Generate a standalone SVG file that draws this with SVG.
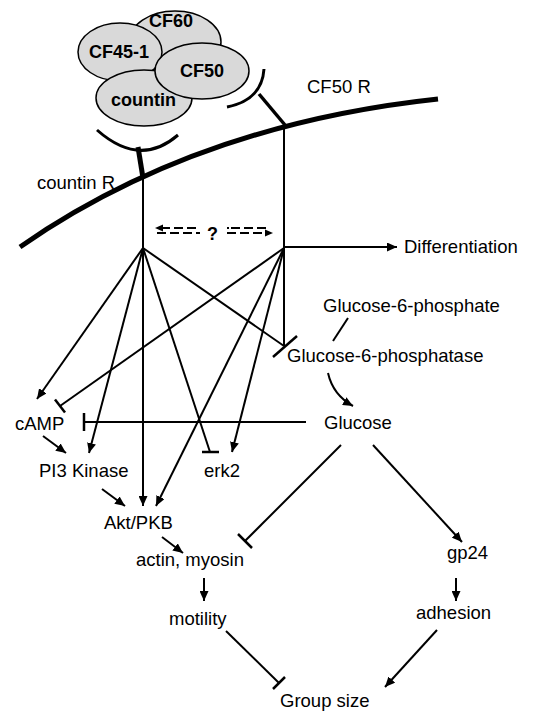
<svg xmlns="http://www.w3.org/2000/svg" width="538" height="718" viewBox="0 0 538 718">
<defs>
<marker id="ah" markerUnits="userSpaceOnUse" markerWidth="11" markerHeight="9" refX="10" refY="4.5" orient="auto">
<path d="M0,0 L10,4.5 L0,9 z" fill="#000"/>
</marker>
<style>
.lbl{font-family:"Liberation Sans",Arial,sans-serif;font-size:18.5px;fill:#000}
.blb{font-family:"Liberation Sans",Arial,sans-serif;font-size:18px;font-weight:bold;fill:#000}
.ell{fill:#d9d9d9;stroke:#000;stroke-width:1.5}
.ln{stroke:#000;stroke-width:2;fill:none}
.ar{stroke:#000;stroke-width:2;fill:none;marker-end:url(#ah)}
.bar{stroke:#000;stroke-width:2.5;fill:none}
.dash{stroke:#000;stroke-width:2;fill:none;stroke-dasharray:9,4}
</style>
</defs>
<rect width="538" height="718" fill="#fff"/>

<g id="ligands">
<g id="CF60"><ellipse class="ell" cx="175" cy="42" rx="46" ry="31"/><text class="blb" x="149" y="27">CF60</text></g>
<g id="CF45-1"><ellipse class="ell" cx="120" cy="52" rx="42" ry="29"/><text class="blb" x="89" y="58">CF45-1</text></g>
<g id="countin"><ellipse class="ell" cx="144" cy="98" rx="48" ry="28"/><text class="blb" x="111" y="106">countin</text></g>
<g id="CF50"><ellipse class="ell" cx="202" cy="71" rx="47" ry="28"/><text class="blb" x="180" y="77">CF50</text></g>
</g>

<g id="membrane">
<path d="M20,247 Q195,125 438,99" stroke="#000" stroke-width="5" fill="none"/>
</g>

<g id="countinR">
<path d="M97,130 Q140,168 178,135" stroke="#000" stroke-width="3" fill="none"/>
<line x1="138" y1="147" x2="143" y2="178" stroke="#000" stroke-width="5"/>
<text class="lbl" x="37" y="189">countin R</text>
</g>

<g id="CF50R">
<path d="M264,69 Q262,100 227,107" stroke="#000" stroke-width="3" fill="none"/>
<line x1="259" y1="94" x2="285" y2="125" stroke="#000" stroke-width="3.5"/>
<text class="lbl" x="307" y="93">CF50 R</text>
</g>

<g id="question"><text class="blb" x="207" y="240">?</text></g>
<g id="Differentiation"><text class="lbl" x="404" y="253">Differentiation</text></g>
<g id="G6P"><text class="lbl" x="323" y="312">Glucose-6-phosphate</text></g>
<g id="G6Pase"><text class="lbl" x="287" y="362">Glucose-6-phosphatase</text></g>
<g id="cAMP"><text class="lbl" x="15" y="430">cAMP</text></g>
<g id="Glucose"><text class="lbl" x="324" y="429">Glucose</text></g>
<g id="PI3K"><text class="lbl" x="39" y="477">PI3 Kinase</text></g>
<g id="erk2"><text class="lbl" x="204" y="477">erk2</text></g>
<g id="AktPKB"><text class="lbl" x="104" y="529">Akt/PKB</text></g>
<g id="actin"><text class="lbl" x="136" y="566">actin, myosin</text></g>
<g id="gp24"><text class="lbl" x="447" y="559">gp24</text></g>
<g id="motility"><text class="lbl" x="169" y="625">motility</text></g>
<g id="adhesion"><text class="lbl" x="416" y="619">adhesion</text></g>
<g id="GroupSize"><text class="lbl" x="280" y="707">Group size</text></g>

<g id="connectors">
<!-- receptor stems -->
<line class="ln" x1="143" y1="178" x2="143" y2="248"/>
<line class="ln" x1="284" y1="124" x2="284" y2="248"/>
<!-- dashed crosstalk -->
<line class="dash" x1="161" y1="228" x2="200" y2="228"/>
<path d="M155,228 L163,224.5 L163,231.5 z" fill="#000"/>
<line class="dash" x1="157" y1="233" x2="200" y2="233"/>
<line class="ln" x1="227" y1="228" x2="229" y2="228"/>
<line class="dash" x1="231" y1="228" x2="268" y2="228"/>
<line class="dash" x1="227" y1="233" x2="266" y2="233"/>
<path d="M273,233 L265,229.5 L265,236.5 z" fill="#000"/>
<!-- from countin R branch -->
<line class="ar" x1="143" y1="248" x2="37" y2="399"/>
<line class="ar" x1="143" y1="248" x2="89" y2="453"/>
<line class="ar" x1="143" y1="248" x2="143" y2="506"/>
<line class="ln" x1="143" y1="248" x2="210" y2="452"/>
<line class="bar" x1="202" y1="452" x2="219" y2="452"/>
<line class="ln" x1="143" y1="248" x2="284" y2="346"/>
<line class="bar" x1="273" y1="357" x2="297" y2="336"/>
<!-- from CF50 R branch -->
<line class="ar" x1="284" y1="247" x2="397" y2="247"/>
<line class="ln" x1="284" y1="248" x2="284" y2="346"/>
<line class="ln" x1="284" y1="248" x2="60" y2="406"/>
<line class="bar" x1="55" y1="399.5" x2="65" y2="412.5"/>
<line class="ar" x1="284" y1="248" x2="156" y2="506"/>
<line class="ar" x1="284" y1="248" x2="232" y2="452"/>
<!-- glucose pathway -->
<line class="ln" x1="348" y1="318" x2="333" y2="341"/>
<path class="ar" d="M328,373 Q333,395 353,406"/>
<line class="ln" x1="306" y1="422" x2="84" y2="422"/>
<line class="bar" x1="84" y1="413" x2="84" y2="431"/>
<line class="ln" x1="341" y1="445" x2="245" y2="541"/>
<line class="bar" x1="238" y1="534" x2="252" y2="548"/>
<line class="ar" x1="373" y1="445" x2="462" y2="542"/>
<!-- lower chain -->
<line class="ar" x1="43" y1="436" x2="66" y2="453"/>
<line class="ar" x1="102" y1="489" x2="125" y2="506"/>
<line class="ar" x1="162" y1="537" x2="183" y2="553"/>
<line class="ar" x1="204" y1="578" x2="204" y2="601"/>
<line class="ar" x1="456" y1="578" x2="456" y2="601"/>
<line class="ln" x1="226" y1="631" x2="279" y2="683"/>
<line class="bar" x1="273" y1="689" x2="285" y2="677"/>
<line class="ar" x1="437" y1="630" x2="385" y2="687"/>
</g>
</svg>
